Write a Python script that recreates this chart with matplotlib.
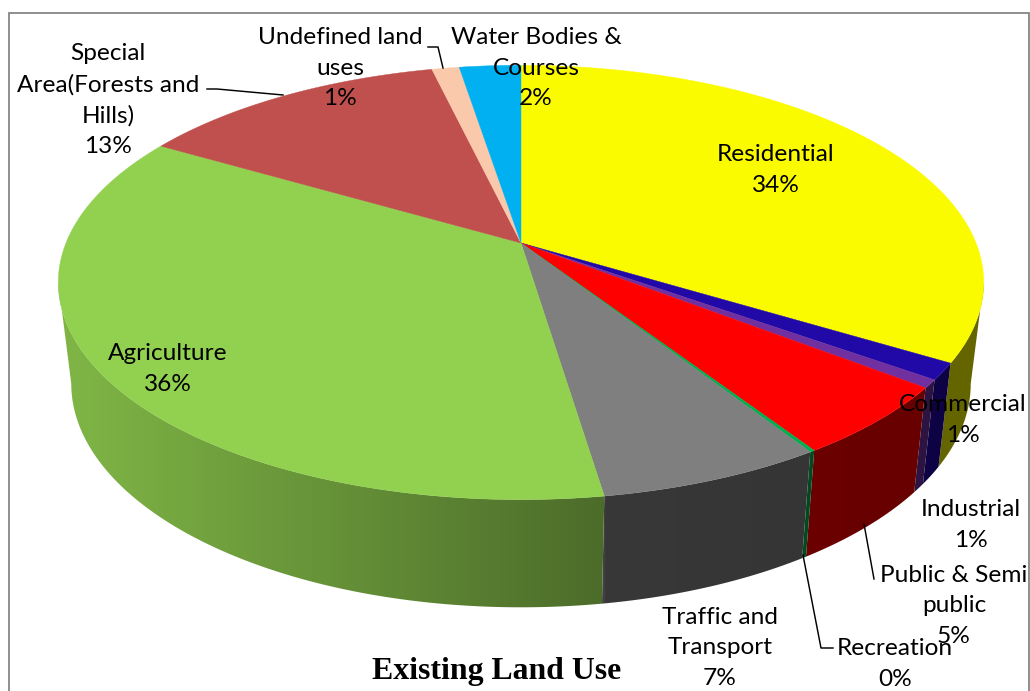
import numpy as np
import matplotlib
matplotlib.use("Agg")
import matplotlib.pyplot as plt
from matplotlib.patches import Polygon

# data
categories = ["Residential", "Commercial", "Industrial", "Public & Semi\npublic", "Recreation",
              "Traffic and\nTransport", "Agriculture", "Special\nArea(Forests and\nHills)",
              "Undefined land\nuses", "Water Bodies &\nCourses"]
shares = [33.67, 1.23, 0.60, 5.30, 0.15, 6.65, 35.80, 12.90, 1.14, 2.56]
printed_pct = [34, 1, 1, 5, 0, 7, 36, 13, 1, 2]
colors = ["#FBFB00", "#2109A8", "#7030A0", "#FF0000", "#00B050",
          "#7F7F7F", "#92D050", "#C0504D", "#FAC9AB", "#00B0F0"]
label_xy = [(776, 170), (963, 420), (971, 525), (954, 606), (895, 664),
            (720, 648), (168, 369), (108, 100), (340, 68), (536, 68)]
title = "Existing Land Use"

CX, CY, A, B, K = 521.0, 243.0, 455.0, 210.0, 0.1816


def top(theta):
    u, v = np.sin(theta), -np.cos(theta)
    w = 1 - K * v
    return CX + A * u / w, CY + B * v / w


def bottom(x, y):
    return CX + 0.972 * (x - CX), y + 100 + 0.03 * (y - CY)


def shade(x):
    return np.interp(x, [70, 604, 606, 1000], [0.87, 0.52, 0.44, 0.40])


fig = plt.figure(figsize=(10.3, 6.91), dpi=100)
ax = fig.add_axes([0, 0, 1, 1])
ax.axis("off")

edges = np.concatenate([[0], np.cumsum(shares)]) / np.sum(shares) * 2 * np.pi

# side wall: a horizontal shading ramp clipped to each slice's visible outer face
ramp_x = np.arange(0, 1031)
tangent = np.arccos(-K)            # where the rim turns from back to front
for c, a0, a1 in zip(colors, edges[:-1], edges[1:]):
    lo = max(a0, tangent)
    hi = min(a1, 2 * np.pi - tangent)
    if hi <= lo:
        continue
    t = np.linspace(lo, hi, 240)
    xt, yt = top(t)
    xb, yb = bottom(xt, yt)
    outline = list(zip(xt, yt)) + list(zip(xb[::-1], yb[::-1]))
    poly = Polygon(outline, closed=True, facecolor="none", edgecolor="none",
                   transform=ax.transData)
    ax.add_patch(poly)
    img = shade(ramp_x)[None, :, None] * np.array(matplotlib.colors.to_rgb(c))[None, None, :]
    im = ax.imshow(img, extent=(0, 1030, 691, 0), aspect="auto", interpolation="bilinear",
                   zorder=1)
    im.set_clip_path(poly)

# top face
for c, a0, a1 in zip(colors, edges[:-1], edges[1:]):
    t = np.linspace(a0, a1, max(3, int((a1 - a0) / 0.005)))
    xs, ys = top(t)
    pts = [(CX, CY)] + list(zip(xs, ys))
    ax.add_patch(Polygon(pts, closed=True, facecolor=c, edgecolor=c, linewidth=0.3, zorder=2))

ax.set_xlim(0, 1030)
ax.set_ylim(691, 0)

# frame (open at the bottom, cut by the image edge)
ax.plot([8.5, 8.5, 1028.5, 1028.5], [691, 12.5, 12.5, 691], color="#868686", lw=1.3,
        solid_joinstyle="miter", zorder=3)

# leader lines
leaders = [([207, 217, 283], [89, 89, 95]),
           ([428, 438, 443], [47, 47, 68]),
           ([864, 874], [524, 579]),
           ([803, 821, 833], [555, 648, 648])]
for lx, ly in leaders:
    ax.plot(lx, ly, color="black", lw=1.05, zorder=3)

# labels
for name, pct, (x, y) in zip(categories, printed_pct, label_xy):
    ax.text(x, y, f"{name}\n{pct}%", ha="center", va="center", ma="center",
            family="Lato", fontsize=17.6, color="black", linespacing=1.56, zorder=4)

ax.text(497, 672, title, ha="center", va="center", family="Liberation Serif",
        fontweight="bold", fontsize=22.9, color="black", zorder=4)

fig.savefig("out.png", dpi=100, facecolor="white")
